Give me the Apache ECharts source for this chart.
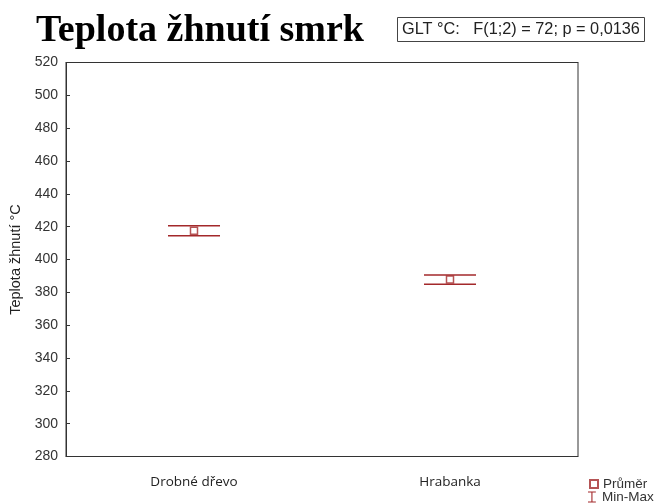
<!DOCTYPE html>
<html>
<head>
<meta charset="utf-8">
<script src="https://cdn.jsdelivr.net/npm/echarts@6/dist/echarts.min.js"></script>
<style>
  html, body { margin: 0; padding: 0; background: #fff; }
  #chart { width: 655px; height: 503px; }
</style>
</head>
<body>
<div id="chart"></div>
<script>
// Glow temperature of spruce: mean and min–max per fuel type
const categories = ['Drobné dřevo', 'Hrabanka'];
const meanValues = [417.5, 387.8];
const minValues = [414.5, 385.0];
const maxValues = [420.5, 390.5];
const statText = 'GLT °C:   F(1;2) = 72; p = 0,0136';

const markColor = '#a3292b';
const capHalfWidth = 26;

const chart = echarts.init(document.getElementById('chart'));

const rangeData = categories.map((c, i) => [i, minValues[i], maxValues[i]]);
const meanData = categories.map((c, i) => [i, meanValues[i]]);

const legendText = { fontFamily: 'Liberation Sans', fontSize: 13.5, color: '#333', padding: [0, 0, 0, 0] };

chart.setOption({
  animation: false,
  title: [
    {
      text: 'Teplota žhnutí smrk',
      left: 36,
      top: 12,
      padding: 0,
      textStyle: {
        fontFamily: 'Liberation Serif',
        fontWeight: 'bold',
        fontSize: 38,
        color: '#000'
      }
    },
    {
      text: statText,
      left: 397,
      top: 17,
      padding: [5, 5, 4, 5],
      borderColor: '#444',
      borderWidth: 1,
      textStyle: {
        fontFamily: 'Liberation Sans',
        fontWeight: 'normal',
        fontSize: 16.3,
        color: '#222'
      }
    }
  ],
  legend: [
    {
      left: 589,
      top: 477,
      itemWidth: 8,
      itemHeight: 8,
      itemGap: 0,
      padding: 0,
      textStyle: legendText,
      data: [{ name: 'Průměr', icon: 'rect' }]
    },
    {
      left: 588,
      top: 490,
      itemWidth: 10,
      itemHeight: 11,
      padding: 0,
      textStyle: legendText,
      data: [{
        name: 'Min-Max',
        icon: 'path://M0,0 H10 V1.4 H5.7 V12.6 H10 V14 H0 V12.6 H4.3 V1.4 H0 Z',
        itemStyle: { color: markColor }
      }]
    }
  ],
  grid: {
    left: 65,
    right: 77,
    top: 62.5,
    bottom: 46.5,
    show: true,
    borderColor: '#333',
    borderWidth: 1,
    containLabel: false
  },
  xAxis: [
    {
      type: 'category',
      data: categories,
      boundaryGap: true,
      axisLine: { lineStyle: { color: '#333' } },
      axisTick: { inside: true, alignWithLabel: true, length: 4, lineStyle: { color: '#333' } },
      axisLabel: { margin: 19, fontFamily: 'Open Sans', fontSize: 13.5, color: '#222' },
      splitLine: { show: false }
    },
    {
      type: 'category',
      data: categories,
      position: 'top',
      boundaryGap: true,
      axisLine: { lineStyle: { color: '#333' } },
      axisTick: { inside: true, alignWithLabel: true, length: 4, lineStyle: { color: '#333' } },
      axisLabel: { show: false },
      splitLine: { show: false }
    }
  ],
  yAxis: {
    type: 'value',
    min: 280,
    max: 520,
    interval: 20,
    name: 'Teplota žhnutí °C',
    nameLocation: 'middle',
    nameGap: 43,
    nameTextStyle: { fontFamily: 'Liberation Sans', fontSize: 14.5, color: '#222' },
    axisLine: { show: true, lineStyle: { color: '#333' } },
    axisTick: { show: true, inside: true, length: 4, lineStyle: { color: '#333' } },
    axisLabel: { margin: 8, fontFamily: 'Liberation Sans', fontSize: 14, color: '#333' },
    splitLine: { show: false }
  },
  series: [
    {
      name: 'Min-Max',
      type: 'custom',
      data: rangeData,
      z: 2,
      itemStyle: { color: markColor },
      renderItem: function (params, api) {
        const x = api.value(0);
        const lo = api.coord([x, api.value(1)]);
        const hi = api.coord([x, api.value(2)]);
        const style = { stroke: markColor, lineWidth: 1.5 };
        return {
          type: 'group',
          children: [
            { type: 'line', shape: { x1: hi[0] - capHalfWidth, y1: hi[1], x2: hi[0] + capHalfWidth, y2: hi[1] }, style: style },
            { type: 'line', shape: { x1: lo[0] - capHalfWidth, y1: lo[1], x2: lo[0] + capHalfWidth, y2: lo[1] }, style: style }
          ]
        };
      }
    },
    {
      name: 'Průměr',
      type: 'scatter',
      data: meanData,
      z: 3,
      symbol: 'rect',
      symbolSize: 7,
      itemStyle: { color: '#fff', borderColor: markColor, borderWidth: 1.5 }
    }
  ]
});
</script>
</body>
</html>
